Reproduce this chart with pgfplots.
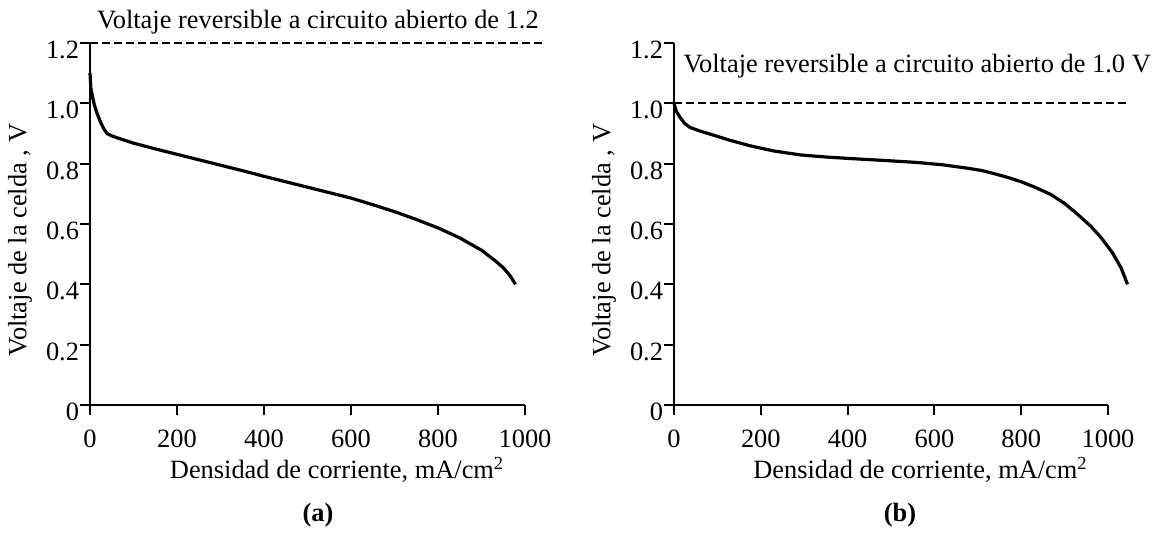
\documentclass[border=0pt]{standalone}
\usepackage{fontspec}
\setmainfont{Liberation Serif}
\usepackage{pgfplots}
\pgfplotsset{compat=1.18}

\pgfplotsset{
  celda/.style={
    scale only axis,
    width=217.5pt, height=181pt,
    xmin=0, xmax=1000, ymin=0, ymax=1.2,
    axis lines=left,
    axis line style={-, line width=1pt},
    tick align=outside,
    major tick length=5pt,
    tick style={line width=1pt, black},
    xtick={0,200,...,1000},
    ytick={0,0.2,0.4,0.6,0.8,1.0,1.2},
    yticklabels={0,0.2,0.4,0.6,0.8,1.0,1.2},
    /pgf/number format/assume math mode=true,
    /pgf/number format/1000 sep={},
    font=\fontsize{13.2}{15}\selectfont,
    tick label style={font=\fontsize{13.2}{15}\selectfont},
    yticklabel style={inner xsep=0.3pt, yshift=-3.5pt},
    xticklabel style={yshift=-4pt},
    clip=false,
    xlabel={Densidad de corriente, mA/cm\textsuperscript{2}},
    ylabel={Voltaje de la celda , V},
    xlabel style={at={(axis description cs:0.568,-0.18)}, anchor=center},
    ylabel style={at={(axis description cs:-0.161,0.455)}, anchor=center},
  },
  dashline/.style={black, dash pattern=on 4pt off 2pt, line width=0.9pt},
  curva/.style={black, line width=1.6pt, line join=round},
}

\begin{document}
\begin{tikzpicture}
\useasboundingbox (0,0) rectangle (579.5pt,275.5pt);

% (a)
\begin{axis}[celda, at={(45pt,73pt)}, anchor=south west]
  \addplot[dashline] coordinates {(0,1.2) (1040,1.2)};
  \addplot[curva] coordinates {
    (0,1.10) (2,1.05) (6,1.02) (10,0.995) (16,0.968) (25,0.935) (32,0.915)
    (39,0.90) (50,0.892) (70,0.882) (100,0.868) (150,0.849) (200,0.831)
    (250,0.813) (300,0.795) (350,0.777) (400,0.758) (450,0.740) (500,0.722)
    (550,0.704) (600,0.686) (650,0.664) (700,0.641) (750,0.615) (800,0.587)
    (850,0.554) (900,0.513) (930,0.48) (950,0.455) (966,0.428) (978,0.40)
  };
  \node[anchor=center] at (axis cs:524,1.27) {Voltaje reversible a circuito abierto de 1.2};
\end{axis}

% (b)
\begin{axis}[celda, at={(337pt,73pt)}, anchor=south west, width=217pt]
  \addplot[dashline] coordinates {(0,1.0) (1045,1.0)};
  \addplot[curva] coordinates {
    (0,1.0) (5,0.975) (14,0.953) (25,0.933) (37,0.92) (60,0.908) (83,0.898)
    (130,0.877) (176,0.859) (230,0.842) (291,0.829) (350,0.822) (406,0.817)
    (480,0.811) (560,0.804) (620,0.796) (676,0.785) (710,0.777) (740,0.766)
    (770,0.754) (800,0.740) (830,0.723) (868,0.698) (900,0.668) (930,0.632)
    (960,0.593) (984,0.555) (1010,0.505) (1030,0.455) (1045,0.40)
  };
  \node[anchor=west, inner sep=0pt] at (axis cs:21,1.124) {Voltaje reversible a circuito abierto de 1.0 V};
\end{axis}

\node[font=\fontsize{13.2}{15}\selectfont\bfseries] at (159pt,18pt) {(a)};
\node[font=\fontsize{13.2}{15}\selectfont\bfseries] at (450pt,18pt) {(b)};
\end{tikzpicture}
\end{document}
